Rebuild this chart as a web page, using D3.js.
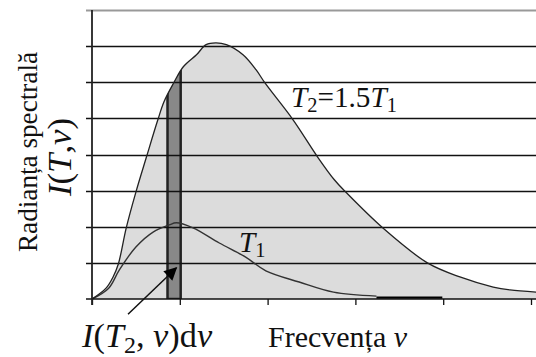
<!DOCTYPE html>
<html>
<head>
<meta charset="utf-8">
<script src="https://cdn.jsdelivr.net/npm/d3@7"></script>
</head>
<body style="margin:0">
<svg id="chart" width="536" height="357" font-family="Liberation Serif"></svg>
<script>
// spectral radiance (arbitrary units)
const t2Nu = [0, 0.16, 0.24, 0.30, 0.39, 0.50, 0.62, 0.75, 0.82, 0.93, 1.04, 1.19, 1.30, 1.41, 1.53, 1.72, 1.87, 1.97, 2.29, 2.57, 2.76, 2.89, 3.32, 3.82, 4.19, 4.57, 4.76, 5.06];
const t2I  = [0, 0.30, 0.61, 0.97, 1.97, 2.96, 3.93, 4.96, 5.46, 5.98, 6.43, 6.76, 7.04, 7.09, 7.04, 6.76, 6.34, 5.98, 4.96, 3.93, 3.30, 2.96, 1.95, 1.00, 0.61, 0.33, 0.25, 0.19];

const t1Nu = [0, 0.19, 0.31, 0.50, 0.70, 0.88, 0.96, 1.15, 1.45, 1.75, 1.98, 2.36, 2.75, 3.24];
const t1I  = [0, 0.30, 0.80, 1.44, 1.86, 2.05, 2.11, 1.97, 1.55, 1.16, 0.78, 0.47, 0.19, 0.08];
const t1TailNu = [3.24, 3.99];
const t1TailI  = [0.04, 0.04];

const xTicks = [0, 1, 2, 3, 4, 5];
const yTicks = [1, 2, 3, 4, 5, 6, 7];
const yTop = 8;
const band = [0.86, 1.01]; // I(T2,nu) d nu strip

const width = 536, height = 357;
const margin = { top: 10, left: 92, bottom: 58 };
const serif = 'Liberation Serif';

const svg = d3.select('#chart').style('font-family', serif);

const x = d3.scaleLinear().domain([0, 5]).range([margin.left, 531]);
const y = d3.scaleLinear().domain([0, yTop]).range([height - margin.bottom, margin.top]);

const t2 = t2Nu.map((v, i) => ({ nu: v, I: t2I[i] }));
const t1 = t1Nu.map((v, i) => ({ nu: v, I: t1I[i] }));
const t1Tail = t1TailNu.map((v, i) => ({ nu: v, I: t1TailI[i] }));

const curve = d3.curveCatmullRom.alpha(0.5);

const area = d3.area()
  .x(d => x(d.nu))
  .y0(y(0))
  .y1(d => y(d.I))
  .curve(curve);

const line = d3.line()
  .x(d => x(d.nu))
  .y(d => y(d.I))
  .curve(curve);

const defs = svg.append('defs');
defs.append('clipPath').attr('id', 'under-t2')
  .append('path').attr('d', area(t2));

// light fill under T2
svg.append('path')
  .attr('d', area(t2))
  .attr('fill', '#dcdcdc');

// dark strip
svg.append('rect')
  .attr('clip-path', 'url(#under-t2)')
  .attr('x', x(band[0]))
  .attr('y', y(yTop))
  .attr('width', x(band[1]) - x(band[0]))
  .attr('height', y(0) - y(yTop))
  .attr('fill', '#888')
  .attr('stroke', '#222')
  .attr('stroke-width', 2.5);

// horizontal grid, extending left of the axis as ticks
svg.append('g')
  .selectAll('line')
  .data(yTicks)
  .join('line')
  .attr('x1', x(0) - 6)
  .attr('x2', width)
  .attr('y1', d => Math.round(y(d)) + 0.5)
  .attr('y2', d => Math.round(y(d)) + 0.5)
  .attr('stroke', '#111')
  .attr('stroke-width', 1.3);

svg.append('line')
  .attr('x1', x(0) - 6)
  .attr('x2', width)
  .attr('y1', y(yTop) + 0.5)
  .attr('y2', y(yTop) + 0.5)
  .attr('stroke', '#999')
  .attr('stroke-width', 2);

// curves
svg.append('path')
  .attr('d', line(t1))
  .attr('fill', 'none')
  .attr('stroke', '#333')
  .attr('stroke-width', 1.4);

svg.append('path')
  .attr('d', line(t1Tail))
  .attr('fill', 'none')
  .attr('stroke', '#000')
  .attr('stroke-width', 2.2);

svg.append('path')
  .attr('d', line(t2))
  .attr('fill', 'none')
  .attr('stroke', '#222')
  .attr('stroke-width', 1.3);

// axes
const xAxis = svg.append('g')
  .attr('transform', `translate(0, ${y(0)})`)
  .call(d3.axisBottom(x).tickValues(xTicks).tickSize(6).tickFormat(''));
xAxis.select('.domain').remove();
xAxis.selectAll('line').attr('stroke', '#111').attr('stroke-width', 1.3);

svg.append('line')
  .attr('x1', x(0) - 6).attr('x2', width)
  .attr('y1', y(0)).attr('y2', y(0))
  .attr('stroke', '#111').attr('stroke-width', 1.6);

svg.append('line')
  .attr('x1', x(0)).attr('x2', x(0))
  .attr('y1', y(yTop)).attr('y2', y(0) + 6)
  .attr('stroke', '#222').attr('stroke-width', 1.8);

// arrow to the strip
defs.append('marker')
  .attr('id', 'head')
  .attr('viewBox', '0 0 10 10')
  .attr('refX', 9).attr('refY', 5)
  .attr('markerWidth', 16).attr('markerHeight', 13)
  .attr('markerUnits', 'userSpaceOnUse')
  .attr('orient', 'auto')
  .append('path')
  .attr('d', 'M0,0L10,5L0,10z')
  .attr('fill', '#000');

svg.append('line')
  .attr('x1', x(0.41)).attr('y1', y(-0.42))
  .attr('x2', x(0.96)).attr('y2', y(0.86))
  .attr('stroke', '#111')
  .attr('stroke-width', 1.5)
  .attr('marker-end', 'url(#head)');

// labels
const it = (t, s, dy) => t.append('tspan').attr('font-style', 'italic').attr('dy', dy || null).text(s);
const up = (t, s, dy) => t.append('tspan').attr('dy', dy || null).text(s);
const sub = (t, s) => t.append('tspan').attr('dy', '0.25em').attr('font-size', '0.7em').text(s);
// scale a label so its width matches the reference
const fit = (t, w) => {
  const len = t.node().getComputedTextLength();
  const fsz = +t.attr('font-size');
  t.attr('font-size', (fsz * w / len).toFixed(1));
};
const newText = (parent) => parent.append('text')
  .style('font-family', serif)
  .attr('fill', '#111');

const yLab = svg.append('g').attr('transform', 'rotate(-90)');
const yLab1 = newText(yLab)
  .attr('x', -152).attr('y', 37)
  .attr('text-anchor', 'middle')
  .attr('font-size', 27)
  .text('Radianța spectrală');
fit(yLab1, 200);
const yLab2 = newText(yLab)
  .attr('x', -157).attr('y', 71)
  .attr('text-anchor', 'middle')
  .attr('font-size', 27);
it(yLab2, 'I'); up(yLab2, '('); it(yLab2, 'T'); up(yLab2, ','); it(yLab2, 'ν'); up(yLab2, ')');
fit(yLab2, 78);

const xLab1 = newText(svg)
  .attr('x', 82).attr('y', 347)
  .attr('font-size', 28);
it(xLab1, 'I'); up(xLab1, '('); it(xLab1, 'T'); sub(xLab1, '2');
up(xLab1, ', ', '-0.175em'); it(xLab1, 'ν'); up(xLab1, ')d'); it(xLab1, 'ν');
fit(xLab1, 130);

const xLab2 = newText(svg)
  .attr('x', 268).attr('y', 347)
  .attr('font-size', 28);
up(xLab2, 'Frecvența '); it(xLab2, 'ν');
fit(xLab2, 139);

const lab2 = newText(svg)
  .attr('x', 291).attr('y', 107)
  .attr('font-size', 28);
it(lab2, 'T'); sub(lab2, '2'); up(lab2, '=1.5', '-0.175em'); it(lab2, 'T'); sub(lab2, '1');
fit(lab2, 106);

const lab1 = newText(svg)
  .attr('x', 239).attr('y', 252)
  .attr('font-size', +lab2.attr('font-size'));
it(lab1, 'T'); sub(lab1, '1');
</script>
</body>
</html>
